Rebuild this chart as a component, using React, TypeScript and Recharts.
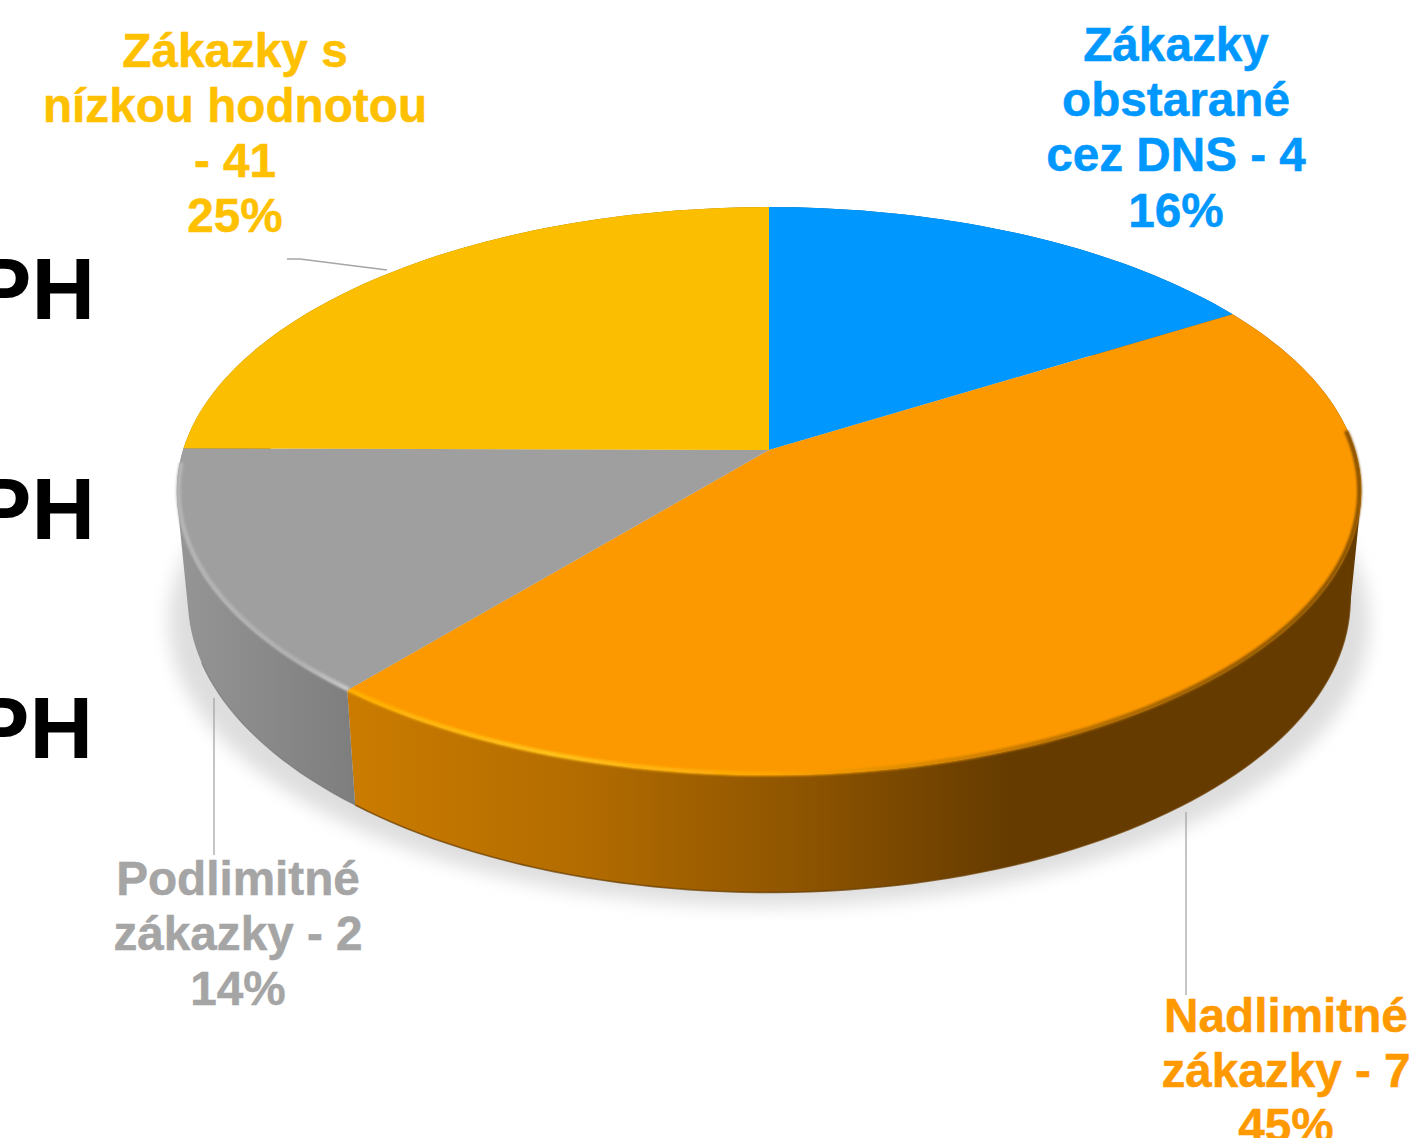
import React from "react";
import { PieChart, Pie } from "recharts";

const categories = ["Zákazky obstarané cez DNS", "Nadlimitné zákazky", "Podlimitné zákazky", "Zákazky s nízkou hodnotou"];
const shares = [16.2, 44.85, 14.05, 24.9];
const labelLines = [
  ["Zákazky", "obstarané", "cez DNS - 4"],
  ["Nadlimitné", "zákazky - 7"],
  ["Podlimitné", "zákazky - 2"],
  ["Zákazky s", "nízkou hodnotou", "- 41"],
];
const sideTexts = ["PH", "PH", "PH"];

const topColors = ["#0098FF", "#FD9900", "#9F9F9F", "#FBBE00"];
const labelColors = ["#0098FF", "#FF9900", "#A5A5A5", "#FFC000"];
const wallFills = ["url(#wallBlue)", "url(#wallOrange)", "url(#wallGray)", "url(#wallGold)"];
const labelX = [1176, 1286, 238, 235];
const labelY = [61, 1032, 895, 66.5];
const leaders = ["", "1186,812 1186,995", "214,698 214,855", "287,259 300,259 387,270"];
const sideY = [319, 539, 758];
const sideX = [91, 91, 89];

const W = 1415, H = 1138;
const CX = 769, CY = 450, R = 586;
const P = 0.1444, TOP_B = 278;
const BOT_A = 575, BOT_B = 287, BOT_Y = 557;
const RAD = Math.PI / 180;

const chartData = categories.map((name, i) => ({ name, value: shares[i], index: i }));

const project = (deg: number, a: number, b: number, cy: number, k = 1) => {
  const u = Math.cos(deg * RAD) * k;
  const v = -Math.sin(deg * RAD) * k;
  const w = 1 - P * v;
  return [CX + (a * u) / w, cy + (b * v) / w];
};
const angles = (start: number, end: number) => {
  const n = Math.max(2, Math.ceil(Math.abs(end - start) / 1.5));
  return Array.from({ length: n + 1 }, (_, i) => start + ((end - start) * i) / n);
};
const fmt = (p: number[]) => `${p[0].toFixed(2)} ${p[1].toFixed(2)}`;

const TopShape = (props: any) => {
  const { cx, cy, outerRadius, startAngle, endAngle, index } = props;
  const b = (TOP_B / R) * outerRadius;
  const arc = angles(startAngle, endAngle).map((d) => project(d, outerRadius, b, cy));
  const d = `M${cx} ${cy}L` + arc.map(fmt).join("L") + "Z";
  let rim: any = null;
  if (index === 1 || index === 2) {
    const s = Math.min(startAngle, endAngle), e = Math.max(startAngle, endAngle);
    const from = index === 1 ? s : s + 3;
    const to = index === 1 ? Math.min(e, 4) : e;
    const rimPts = angles(from, to).map((x) => project(x, outerRadius, b, cy, 0.997));
    rim = (
      <path
        d={"M" + rimPts.map(fmt).join("L")}
        fill="none"
        stroke={index === 1 ? "url(#rimOrange)" : "url(#rimGray)"}
        strokeWidth={4.5}
        filter="url(#soft)"
      />
    );
  }
  return (
    <g>
      <path d={d} fill={topColors[index]} />
      {rim}
    </g>
  );
};

const WallShape = (props: any) => {
  const { outerRadius, startAngle, endAngle, index, cy } = props;
  const b = (TOP_B / R) * outerRadius;
  const list = angles(startAngle, endAngle);
  let d = "";
  for (let i = 0; i < list.length - 1; i++) {
    const q = [
      project(list[i], outerRadius, b, cy),
      project(list[i + 1], outerRadius, b, cy),
      project(list[i + 1], BOT_A, BOT_B, BOT_Y),
      project(list[i], BOT_A, BOT_B, BOT_Y),
    ];
    let area = 0;
    q.forEach((p, j) => {
      const n = q[(j + 1) % 4];
      area += p[0] * n[1] - n[0] * p[1];
    });
    if (area < 0) q.reverse();
    d += "M" + q.map(fmt).join("L") + "Z";
  }
  const visible = list.filter((_, i) => index === 1 || i < list.length * 0.6);
  const bottom = visible.map((a) => project(a, BOT_A, BOT_B, BOT_Y));
  return (
    <g>
      <path d={d} fill={wallFills[index]} fillRule="nonzero" />
      {index === 1 && (
        <path d={"M" + bottom.map(fmt).join("L")} fill="none" stroke="#6B3F00" strokeWidth={1.6} opacity={0.75} />
      )}
      {index === 2 && (
        <path d={"M" + bottom.map(fmt).join("L")} fill="none" stroke="#6E6E6E" strokeWidth={1.2} opacity={0.6} />
      )}
    </g>
  );
};

const SliceLabel = (props: any) => {
  const { index, value } = props;
  const lines = [...labelLines[index], `${Math.round(value)}%`];
  return (
    <g>
      {leaders[index] && <polyline points={leaders[index]} fill="none" stroke="#A6A6A6" strokeWidth={1.3} />}
      <text
        textAnchor="middle"
        fontFamily="'Liberation Sans', Arial, sans-serif"
        fontWeight={700}
        fontSize={47.7}
        fill={labelColors[index]}
        stroke={labelColors[index]}
        strokeWidth={0.5}
      >
        {lines.map((t, i) => (
          <tspan key={i} x={labelX[index]} y={labelY[index] + i * 55.2}>
            {t}
          </tspan>
        ))}
      </text>
    </g>
  );
};

const layer: React.CSSProperties = { position: "absolute", left: 0, top: 0 };

export default function App() {
  return (
    <div style={{ position: "absolute", left: 0, top: 0, width: W, height: H, overflow: "hidden", background: "#fff" }}>
      <svg width={W} height={H} style={layer}>
        <defs>
          <filter id="soft" x="-5%" y="-5%" width="110%" height="110%">
            <feGaussianBlur stdDeviation="1.3" />
          </filter>
          <filter id="shadow" x="-10%" y="-10%" width="120%" height="120%">
            <feGaussianBlur stdDeviation="9" />
          </filter>
          <linearGradient id="wallOrange" gradientUnits="userSpaceOnUse" x1="348" y1="0" x2="1010" y2="0">
            <stop offset="0" stopColor="#CB7C00" />
            <stop offset="0.35" stopColor="#B36C00" />
            <stop offset="0.7" stopColor="#8C5300" />
            <stop offset="1" stopColor="#653B00" />
          </linearGradient>
          <linearGradient id="wallGray" gradientUnits="userSpaceOnUse" x1="180" y1="0" x2="352" y2="0">
            <stop offset="0" stopColor="#959595" />
            <stop offset="1" stopColor="#7E7E7E" />
          </linearGradient>
          <linearGradient id="wallBlue" gradientUnits="userSpaceOnUse" x1="0" y1="0" x2="1" y2="0">
            <stop offset="0" stopColor="#005C99" />
          </linearGradient>
          <linearGradient id="wallGold" gradientUnits="userSpaceOnUse" x1="0" y1="0" x2="1" y2="0">
            <stop offset="0" stopColor="#977300" />
          </linearGradient>
          <linearGradient id="rimOrange" gradientUnits="userSpaceOnUse" x1="348" y1="0" x2="1360" y2="0">
            <stop offset="0" stopColor="#FFAE00" />
            <stop offset="0.2" stopColor="#FFC21A" />
            <stop offset="0.42" stopColor="#FFA400" />
            <stop offset="0.62" stopColor="#D08000" />
            <stop offset="0.85" stopColor="#9A5E00" />
            <stop offset="1" stopColor="#8A5300" />
          </linearGradient>
          <linearGradient id="rimGray" gradientUnits="userSpaceOnUse" x1="178" y1="0" x2="350" y2="0">
            <stop offset="0" stopColor="#B5B5B5" />
            <stop offset="0.7" stopColor="#B0B0B0" />
            <stop offset="1" stopColor="#C8C8C8" />
          </linearGradient>
        </defs>
        <ellipse cx={769} cy={622} rx={600} ry={284} fill="#DEDEDE" filter="url(#shadow)" />
        <text fontFamily="'Liberation Sans', Arial, sans-serif" fontWeight={700} fontSize={88} fill="#000" textAnchor="end">
          {sideTexts.map((t, i) => (
            <tspan key={i} x={sideX[i] + 4} y={sideY[i]}>
              {t}
            </tspan>
          ))}
        </text>
      </svg>
      <div style={layer}>
        <PieChart width={W} height={H} margin={{ top: 0, right: 0, bottom: 0, left: 0 }}>
          <Pie
            data={chartData}
            dataKey="value"
            nameKey="name"
            cx={CX}
            cy={CY}
            outerRadius={R}
            startAngle={90}
            endAngle={-270}
            stroke="none"
            isAnimationActive={false}
            shape={WallShape}
            label={false}
            labelLine={false}
          />
          <Pie
            data={chartData}
            dataKey="value"
            nameKey="name"
            cx={CX}
            cy={CY}
            outerRadius={R}
            startAngle={90}
            endAngle={-270}
            stroke="none"
            isAnimationActive={false}
            shape={TopShape}
            label={SliceLabel}
            labelLine={false}
          />
        </PieChart>
      </div>
    </div>
  );
}
